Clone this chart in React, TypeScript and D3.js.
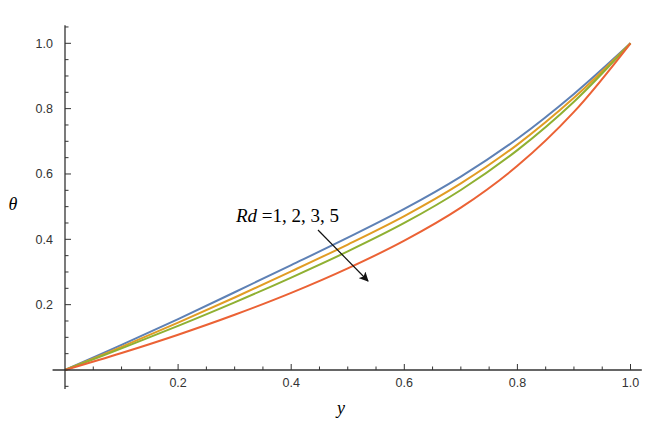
import React from "react";
import * as d3 from "d3";

// y positions across the channel
const yValues = [0, 0.1, 0.2, 0.3, 0.4, 0.5, 0.6, 0.7, 0.8, 0.9, 1.0];

// theta profiles
const rd1 = [0, 0.077, 0.156, 0.238, 0.321, 0.405, 0.493, 0.592, 0.708, 0.845, 1.0];
const rd2 = [0, 0.071, 0.145, 0.222, 0.302, 0.384, 0.471, 0.571, 0.69, 0.833, 1.0];
const rd3 = [0, 0.066, 0.135, 0.207, 0.283, 0.363, 0.45, 0.551, 0.673, 0.821, 1.0];
const rd5 = [0, 0.052, 0.108, 0.169, 0.236, 0.311, 0.396, 0.497, 0.625, 0.79, 1.0];

const seriesNames = ["Rd=1", "Rd=2", "Rd=3", "Rd=5"];
const seriesColors = ["#5E81B5", "#E19C24", "#8FB032", "#EB6235"];

const xMajor = [0.2, 0.4, 0.6, 0.8, 1.0];
const yMajor = [0.2, 0.4, 0.6, 0.8, 1.0];

const width = 657;
const height = 430;

const App = () => {
  const x = d3.scaleLinear().domain([0, 1]).range([65, 630.5]);
  const y = d3.scaleLinear().domain([0, 1]).range([370, 43.3]);

  const all = [rd1, rd2, rd3, rd5];

  const line = d3
    .line<number>()
    .x((_, i) => x(yValues[i]))
    .y((d) => y(d))
    .curve(d3.curveCatmullRom.alpha(0.5));

  const xMinor = d3.range(1, 21).map((i) => i * 0.05);
  const yMinor = d3.range(-1, 22).map((i) => i * 0.05).filter((v) => Math.abs(v) > 1e-9);

  const isMajor = (v: number) => Math.abs(v * 5 - Math.round(v * 5)) < 1e-6;

  const axisColor = "#333";
  const labelFont = "'Liberation Sans', Arial, sans-serif";
  const serif = "'Liberation Serif', 'Times New Roman', serif";

  return (
    <svg
      width={width}
      height={height}
      style={{ position: "absolute", left: 0, top: 0, background: "#fff" }}
    >
      {/* curves */}
      {all.map((s, k) => (
        <path
          key={seriesNames[k]}
          d={line(s) || ""}
          fill="none"
          stroke={seriesColors[k]}
          strokeWidth={2}
        />
      ))}

      {/* x axis */}
      <line x1={x(-0.022)} x2={x(1.02)} y1={y(0)} y2={y(0)} stroke={axisColor} strokeWidth={1.3} />
      {xMinor.map((v) => (
        <line
          key={"xt" + v}
          x1={x(v)}
          x2={x(v)}
          y1={y(0)}
          y2={y(0) - (isMajor(v) ? 6 : 3.5)}
          stroke={axisColor}
          strokeWidth={1}
        />
      ))}
      {xMajor.map((v) => (
        <text
          key={"xl" + v}
          x={x(v)}
          y={y(0) + 17}
          textAnchor="middle"
          fontFamily={labelFont}
          fontSize={12.5}
          fill="#333"
        >
          {d3.format(".1f")(v)}
        </text>
      ))}

      {/* y axis */}
      <line x1={x(0)} x2={x(0)} y1={y(-0.058)} y2={y(1.055)} stroke={axisColor} strokeWidth={1.3} />
      {yMinor.map((v) => (
        <line
          key={"yt" + v}
          x1={x(0)}
          x2={x(0) + (isMajor(v) ? 6 : 3.5)}
          y1={y(v)}
          y2={y(v)}
          stroke={axisColor}
          strokeWidth={1}
        />
      ))}
      {yMajor.map((v) => (
        <text
          key={"yl" + v}
          x={x(0) - 12}
          y={y(v) + 4.5}
          textAnchor="end"
          fontFamily={labelFont}
          fontSize={12.5}
          fill="#333"
        >
          {d3.format(".1f")(v)}
        </text>
      ))}

      {/* axis titles */}
      <text
        x={x(0.488)}
        y={y(0) + 44}
        textAnchor="middle"
        fontFamily={serif}
        fontStyle="italic"
        fontSize={18}
      >
        y
      </text>
      <text
        x={13}
        y={y(0.49)}
        textAnchor="middle"
        fontFamily={serif}
        fontStyle="italic"
        fontSize={18}
      >
        θ
      </text>

      {/* annotation */}
      <text x={236} y={222} fontFamily={serif} fontSize={19}>
        <tspan fontStyle="italic">Rd</tspan>
        <tspan> =1, 2, 3, 5</tspan>
      </text>
      <defs>
        <marker
          id="arrowHead"
          viewBox="0 0 10 10"
          refX={9}
          refY={5}
          markerWidth={8}
          markerHeight={8}
          orient="auto"
        >
          <path d="M0,0 L10,5 L0,10 L2.5,5 Z" fill="#111" />
        </marker>
      </defs>
      <line
        x1={318}
        y1={230}
        x2={368}
        y2={281}
        stroke="#111"
        strokeWidth={1.2}
        markerEnd="url(#arrowHead)"
      />
    </svg>
  );
};

export default App;
